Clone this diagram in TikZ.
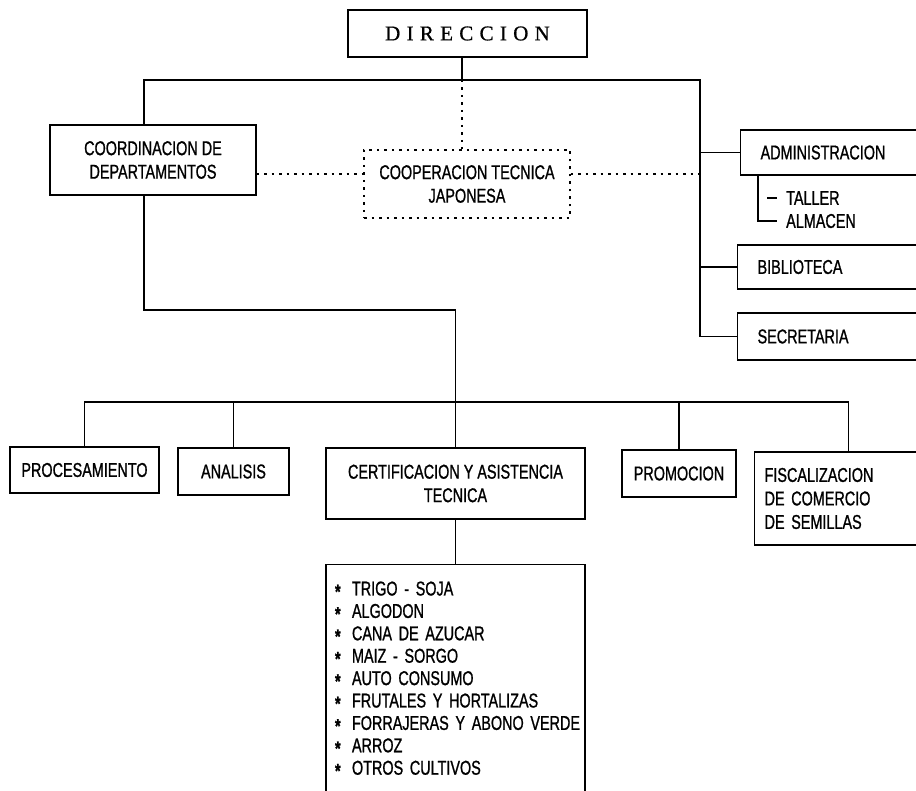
\documentclass[tikz,border=0pt]{standalone}
\usepackage{fontspec}
\newfontfamily\orgfont[FakeStretch=0.72, FakeBold=1]{Liberation Sans}
\newfontfamily\headfont[LetterSpace=30, FakeBold=0.8]{Liberation Serif}
\newcommand{\cropitem}[1]{\mbox{\makebox[17pt][l]{\raisebox{-3pt}{\bfseries *}}#1}}
\tikzset{
	unitbox/.style={draw, line width=1.2pt, inner sep=0pt, align=center},
	sidebox/.style={unitbox, anchor=west, align=left, inner xsep=20pt, text width=200pt, minimum height=#1},
	coopbox/.style={draw, line width=1.3pt, dash pattern=on 2.5pt off 5pt, inner sep=0pt, align=center},
	link/.style={line width=1.2pt},
	dotlink/.style={line width=1.3pt, dash pattern=on 2.5pt off 5pt}
}

\begin{document}
\begin{tikzpicture}[x=1pt,y=-1pt,every node/.style={font=\orgfont\fontsize{20}{23.5}\selectfont}]
\useasboundingbox (0,0) rectangle (916,791);
\clip (0,0) rectangle (916,791);

% top level
\node[unitbox, minimum width=239pt, minimum height=47pt, font=\headfont\fontsize{21}{24}\selectfont] (dir) at (467.5,33.5) {DIRECCION};
\node[unitbox, minimum width=206pt, minimum height=70pt] (coord) at (153,160) {COORDINACION DE\\DEPARTAMENTOS};
\node[coopbox, minimum width=206pt, minimum height=68pt] (coop) at (467,184) {COOPERACION TECNICA\\JAPONESA};

% staff units on the right
\node[sidebox=45pt] (admin) at (740,152.5) {ADMINISTRACION};
\node[anchor=west, inner xsep=9pt, inner ysep=2pt] (taller) at (777,198) {TALLER};
\node[anchor=west, inner xsep=9pt, inner ysep=2pt] (almacen) at (777,221) {ALMACEN};
\node[sidebox=44pt] (biblio) at (737,267) {BIBLIOTECA};
\node[sidebox=47pt] (secret) at (737,336.5) {SECRETARIA};

% departments
\node[unitbox, minimum width=149pt, minimum height=46pt] (proc) at (84.5,470) {PROCESAMIENTO};
\node[unitbox, minimum width=111pt, minimum height=47pt] (anal) at (233.5,471.5) {ANALISIS};
\node[unitbox, minimum width=259pt, minimum height=71pt] (cert) at (455.5,483.5) {CERTIFICACION Y ASISTENCIA\\TECNICA};
\node[unitbox, minimum width=114pt, minimum height=47pt] (prom) at (679,473.5) {PROMOCION};
\node[unitbox, anchor=west, align=left, inner xsep=10pt, text width=168pt, minimum height=93pt] (fisc) at (754,498.5) {FISCALIZACION\\DE COMERCIO\\DE SEMILLAS};

% crops
\node[unitbox, anchor=north, align=left, inner xsep=9pt, text width=241pt, minimum height=230pt, font=\orgfont\fontsize{20}{22.4}\selectfont] (list) at (455.5,564) {\cropitem{TRIGO - SOJA}\\
	\cropitem{ALGODON}\\
	\cropitem{CANA DE AZUCAR}\\
	\cropitem{MAIZ - SORGO}\\
	\cropitem{AUTO CONSUMO}\\
	\cropitem{FRUTALES Y HORTALIZAS}\\
	\cropitem{FORRAJERAS Y ABONO VERDE}\\
	\cropitem{ARROZ}\\
	\cropitem{OTROS CULTIVOS}};

% junctions
\coordinate (jl) at (144,80);
\coordinate (jm) at (462,80);
\coordinate (jr) at (700,80);
\coordinate (jb) at (144,310);
\coordinate (bar) at (0,402);

% upper tree
\draw[link] (jm |- dir.south) -- (jm);
\draw[link] (coord.north -| jl) -- (jl) -- (jr) |- (secret.west);
\draw[link] (jr |- admin.west) -- (admin.west);
\draw[link] (jr |- biblio.west) -- (biblio.west);

% administration sub-units
\draw[link] ([xshift=18pt]admin.south west) |- (almacen.west);
\draw[link] ([xshift=-10pt]taller.west) -- (taller.west);

% japanese cooperation
\draw[dotlink] (jm) -- (coop.north -| jm);
\draw[dotlink] ([yshift=-14pt]coord.east) -- ([yshift=-14pt]coord.east -| coop.west);
\draw[dotlink] ([yshift=10pt]coop.east) -- ([yshift=10pt]coop.east -| jr);

% lower tree
\draw[link] (coord.south -| jl) -- (jb) -- (jb -| cert.north) -- (cert.north);
\draw[link] (proc.north) -- (proc.north |- bar) -- (fisc.north |- bar) -- (fisc.north);
\draw[link] (anal.north) -- (anal.north |- bar);
\draw[link] (prom.north) -- (prom.north |- bar);
\draw[link] (cert.south) -- (list.north);

\end{tikzpicture}
\end{document}
